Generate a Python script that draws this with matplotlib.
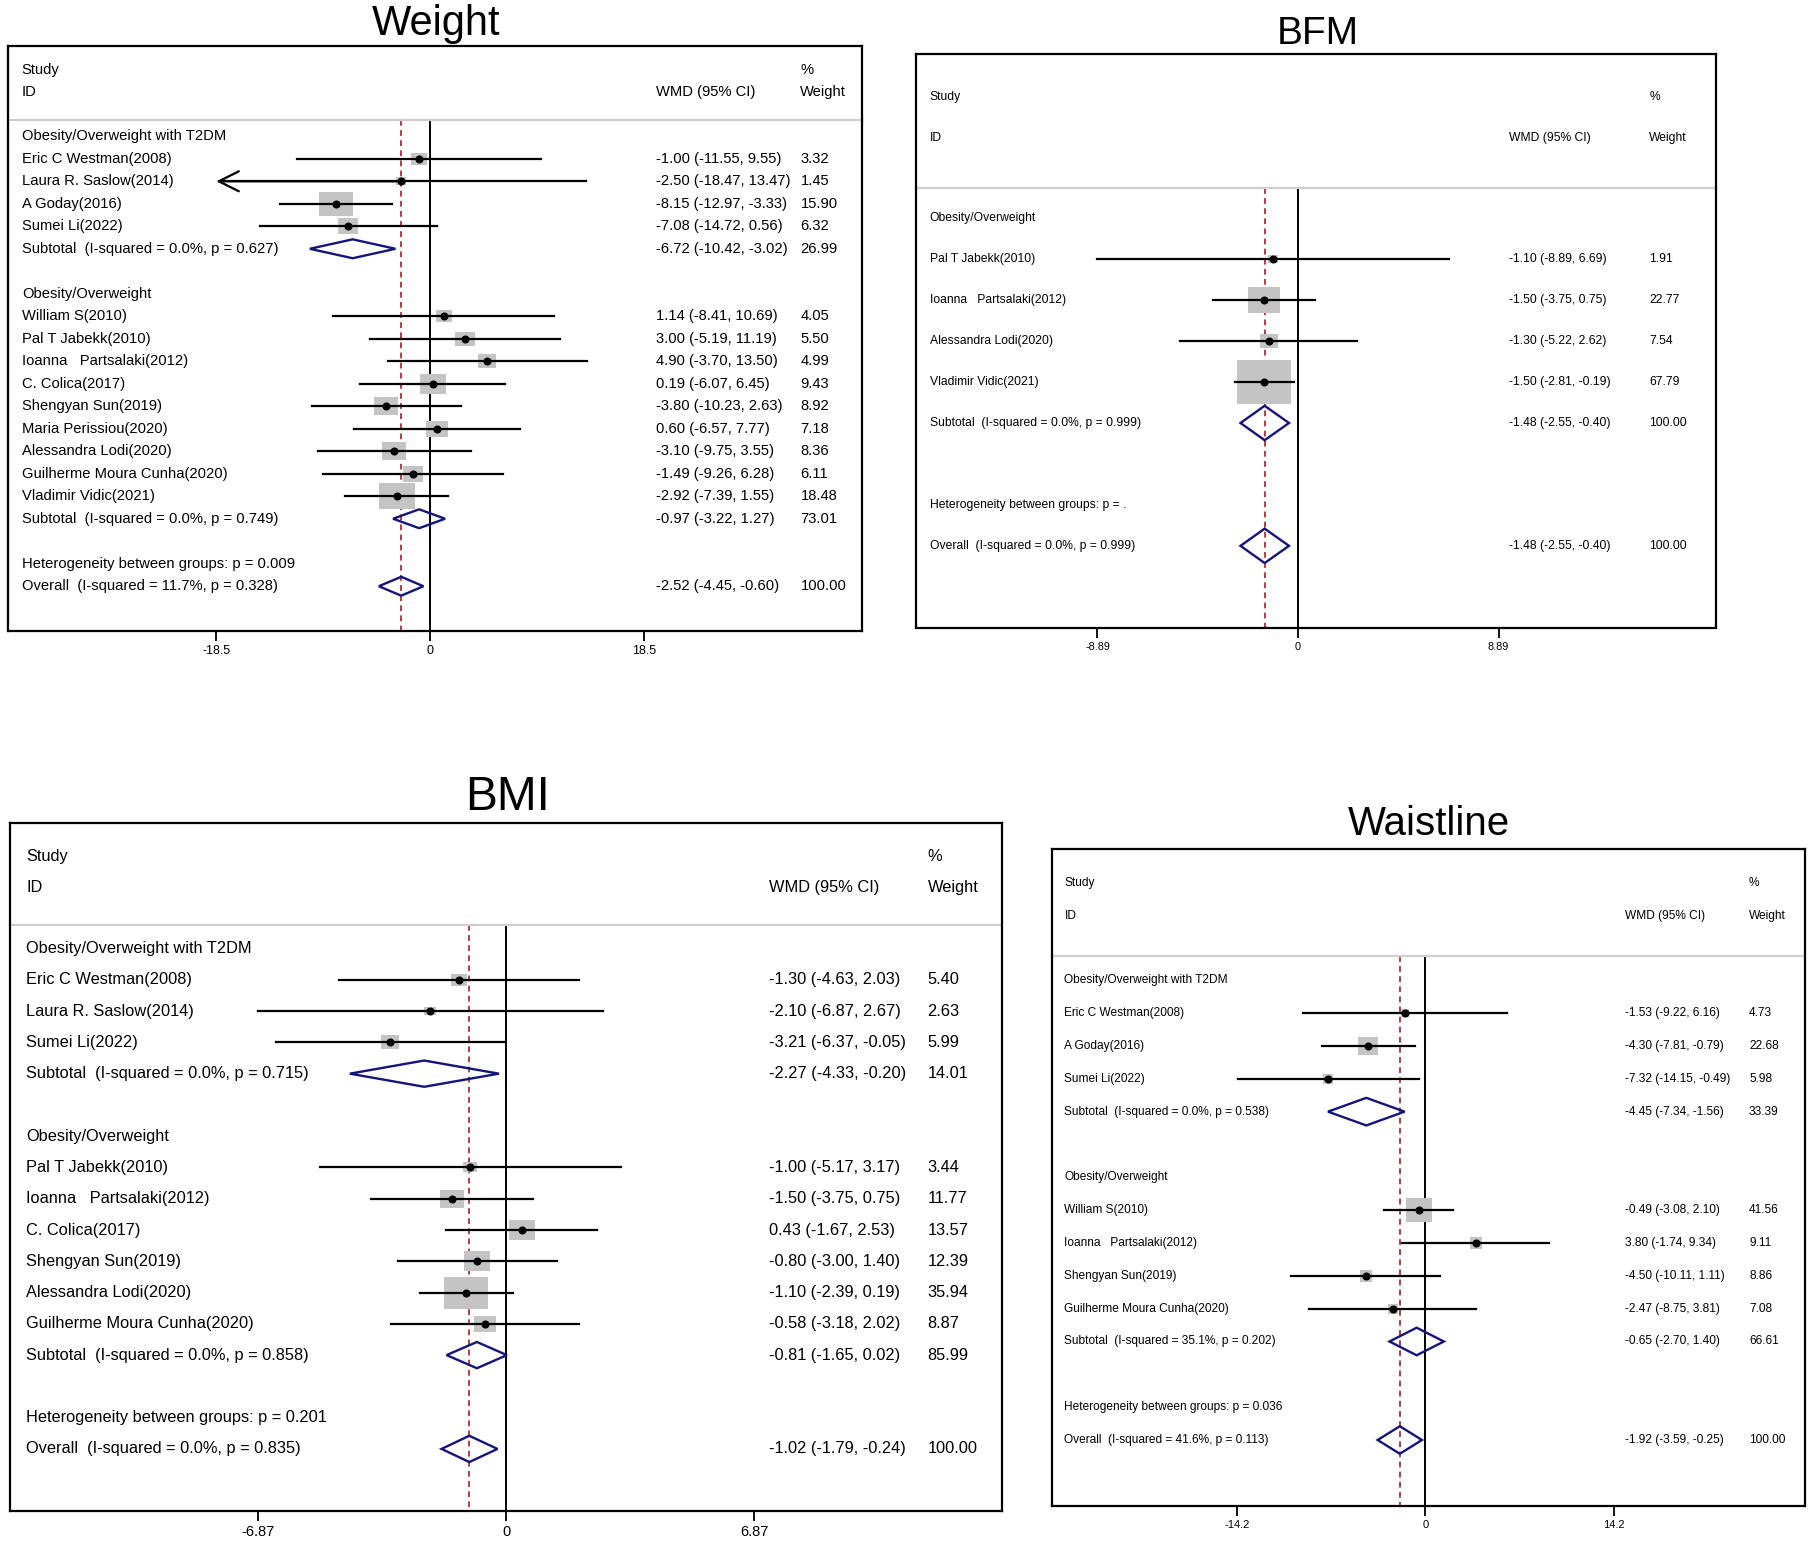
import matplotlib.pyplot as plt
import matplotlib.transforms as mtransforms
import numpy as np

plt.rcParams["font.family"] = ["Liberation Sans", "DejaVu Sans"]

# ---------------- Weight ----------------
weight_groups = ["Obesity/Overweight with T2DM", "Obesity/Overweight"]
weight_studies = [
    ["Eric C Westman(2008)", "Laura R. Saslow(2014)", "A Goday(2016)", "Sumei Li(2022)"],
    ["William S(2010)", "Pal T Jabekk(2010)", "Ioanna   Partsalaki(2012)", "C. Colica(2017)",
     "Shengyan Sun(2019)", "Maria Perissiou(2020)", "Alessandra Lodi(2020)",
     "Guilherme Moura Cunha(2020)", "Vladimir Vidic(2021)"],
]
weight_wmd = [[-1.00, -2.50, -8.15, -7.08],
              [1.14, 3.00, 4.90, 0.19, -3.80, 0.60, -3.10, -1.49, -2.92]]
weight_lo = [[-11.55, -18.47, -12.97, -14.72],
             [-8.41, -5.19, -3.70, -6.07, -10.23, -6.57, -9.75, -9.26, -7.39]]
weight_hi = [[9.55, 13.47, -3.33, 0.56],
             [10.69, 11.19, 13.50, 6.45, 2.63, 7.77, 3.55, 6.28, 1.55]]
weight_pct = [[3.32, 1.45, 15.90, 6.32],
              [4.05, 5.50, 4.99, 9.43, 8.92, 7.18, 8.36, 6.11, 18.48]]
weight_sub_i2 = ["0.0%", "0.0%"]
weight_sub_p = ["0.627", "0.749"]
weight_sub_wmd = [-6.72, -0.97]
weight_sub_lo = [-10.42, -3.22]
weight_sub_hi = [-3.02, 1.27]
weight_sub_pct = [26.99, 73.01]
weight_het_p = "0.009"
weight_overall = [-2.52, -4.45, -0.60, 100.00]
weight_overall_stats = ["11.7%", "0.328"]
weight_arrows = ["Laura R. Saslow(2014)"]

# ---------------- BFM ----------------
bfm_groups = ["Obesity/Overweight"]
bfm_studies = [["Pal T Jabekk(2010)", "Ioanna   Partsalaki(2012)", "Alessandra Lodi(2020)",
                "Vladimir Vidic(2021)"]]
bfm_wmd = [[-1.10, -1.50, -1.30, -1.50]]
bfm_lo = [[-8.89, -3.75, -5.22, -2.81]]
bfm_hi = [[6.69, 0.75, 2.62, -0.19]]
bfm_pct = [[1.91, 22.77, 7.54, 67.79]]
bfm_sub_i2 = ["0.0%"]
bfm_sub_p = ["0.999"]
bfm_sub_wmd = [-1.48]
bfm_sub_lo = [-2.55]
bfm_sub_hi = [-0.40]
bfm_sub_pct = [100.00]
bfm_het_p = "."
bfm_overall = [-1.48, -2.55, -0.40, 100.00]
bfm_overall_stats = ["0.0%", "0.999"]

# ---------------- BMI ----------------
bmi_groups = ["Obesity/Overweight with T2DM", "Obesity/Overweight"]
bmi_studies = [
    ["Eric C Westman(2008)", "Laura R. Saslow(2014)", "Sumei Li(2022)"],
    ["Pal T Jabekk(2010)", "Ioanna   Partsalaki(2012)", "C. Colica(2017)", "Shengyan Sun(2019)",
     "Alessandra Lodi(2020)", "Guilherme Moura Cunha(2020)"],
]
bmi_wmd = [[-1.30, -2.10, -3.21], [-1.00, -1.50, 0.43, -0.80, -1.10, -0.58]]
bmi_lo = [[-4.63, -6.87, -6.37], [-5.17, -3.75, -1.67, -3.00, -2.39, -3.18]]
bmi_hi = [[2.03, 2.67, -0.05], [3.17, 0.75, 2.53, 1.40, 0.19, 2.02]]
bmi_pct = [[5.40, 2.63, 5.99], [3.44, 11.77, 13.57, 12.39, 35.94, 8.87]]
bmi_sub_i2 = ["0.0%", "0.0%"]
bmi_sub_p = ["0.715", "0.858"]
bmi_sub_wmd = [-2.27, -0.81]
bmi_sub_lo = [-4.33, -1.65]
bmi_sub_hi = [-0.20, 0.02]
bmi_sub_pct = [14.01, 85.99]
bmi_het_p = "0.201"
bmi_overall = [-1.02, -1.79, -0.24, 100.00]
bmi_overall_stats = ["0.0%", "0.835"]

# ---------------- Waistline ----------------
waist_groups = ["Obesity/Overweight with T2DM", "Obesity/Overweight"]
waist_studies = [
    ["Eric C Westman(2008)", "A Goday(2016)", "Sumei Li(2022)"],
    ["William S(2010)", "Ioanna   Partsalaki(2012)", "Shengyan Sun(2019)",
     "Guilherme Moura Cunha(2020)"],
]
waist_wmd = [[-1.53, -4.30, -7.32], [-0.49, 3.80, -4.50, -2.47]]
waist_lo = [[-9.22, -7.81, -14.15], [-3.08, -1.74, -10.11, -8.75]]
waist_hi = [[6.16, -0.79, -0.49], [2.10, 9.34, 1.11, 3.81]]
waist_pct = [[4.73, 22.68, 5.98], [41.56, 9.11, 8.86, 7.08]]
waist_sub_i2 = ["0.0%", "35.1%"]
waist_sub_p = ["0.538", "0.202"]
waist_sub_wmd = [-4.45, -0.65]
waist_sub_lo = [-7.34, -2.70]
waist_sub_hi = [-1.56, 1.40]
waist_sub_pct = [33.39, 66.61]
waist_het_p = "0.036"
waist_overall = [-1.92, -3.59, -0.25, 100.00]
waist_overall_stats = ["41.6%", "0.113"]


def pack(prefix):
    g = globals()
    return {k: g[prefix + "_" + k] for k in
            ["groups", "studies", "wmd", "lo", "hi", "pct", "sub_i2", "sub_p", "sub_wmd",
             "sub_lo", "sub_hi", "sub_pct", "het_p", "overall", "overall_stats"]}


panels = [
    ("Weight", pack("weight"), weight_arrows,
     dict(box=(7, 40, 745, 545), zero=372, ppu=10.0, tick=18.5, fs=10.6, tick_fs=9.0,
          title=(377, 30, 30), k=6.0, aspect=0.75, cols=(0.016, 0.759, 0.928))),
    ("BFM", pack("bfm"), [],
     dict(box=(792, 47, 1483, 542), zero=1122, ppu=19.5, tick=8.89, fs=8.7, tick_fs=7.8,
          title=(1139, 38, 28), k=4.7, aspect=0.81, cols=(0.017, 0.742, 0.917))),
    ("BMI", pack("bmi"), [],
     dict(box=(9, 711, 866, 1305), zero=437.5, ppu=31.2, tick=6.87, fs=11.8, tick_fs=10.5,
          title=(439, 699, 34.5), k=5.2, aspect=0.76, cols=(0.016, 0.765, 0.925))),
    ("Waistline", pack("waist"), [],
     dict(box=(909, 733, 1560, 1300), zero=1232, ppu=11.46, tick=14.2, fs=8.6, tick_fs=8.0,
          title=(1235, 721, 29), k=2.9, aspect=0.95, cols=(0.017, 0.762, 0.926))),
]

REF_W, REF_H = 1568.0, 1340.0
GRAY = "#c4c4c4"
NAVY = "#14147a"
RED = "#a83236"

fig = plt.figure(figsize=(18.14, 15.52), dpi=100)


def draw_panel(title, d, arrows, lay):
    x0, y0, x1, y1 = lay["box"]
    ax = fig.add_axes([x0 / REF_W, 1 - y1 / REF_H, (x1 - x0) / REF_W, (y1 - y0) / REF_H])
    ax.set_xlim((x0 - lay["zero"]) / lay["ppu"], (x1 - lay["zero"]) / lay["ppu"])
    n_overall = sum(len(s) + 3 for s in d["studies"]) + 1
    ax.set_ylim(n_overall + 2, -4)
    trans = mtransforms.blended_transform_factory(ax.transAxes, ax.transData)
    c0, c1, c2 = lay["cols"]
    fs = lay["fs"]
    a = lay["aspect"]
    rect = [(-1, -a), (1, -a), (1, a), (-1, a)]
    h = 0.42

    def txt(x, y, s):
        ax.text(x, y, s, transform=trans, va="center", ha="left", fontsize=fs, color="black")

    txt(c0, -2.95, "Study")
    txt(c0, -1.95, "ID")
    txt(c2, -2.95, "%")
    txt(c1, -1.95, "WMD (95% CI)")
    txt(c2, -1.95, "Weight")
    sep = -0.74
    ax.plot([0, 1], [sep, sep], transform=trans, color="#cfcfcf", lw=1.6, clip_on=False)

    def diamond(y, est, lo, hi):
        ax.fill([lo, est, hi, est, lo], [y, y - h, y, y + h, y], fill=False,
                edgecolor=NAVY, lw=1.7, zorder=5)

    row = 0
    for gi, grp in enumerate(d["groups"]):
        txt(c0, row, grp)
        row += 1
        for j, name in enumerate(d["studies"][gi]):
            est, lo, hi, pct = d["wmd"][gi][j], d["lo"][gi][j], d["hi"][gi][j], d["pct"][gi][j]
            ax.scatter([est], [row], s=lay["k"] ** 2 * pct, marker=rect, color=GRAY,
                       linewidths=0, zorder=2)
            if name in arrows:
                ax.plot([-lay["tick"] + 0.6, hi], [row, row], color="black", lw=1.6, zorder=3)
                ax.annotate("", xy=(-lay["tick"], row), xytext=(est, row),
                            arrowprops=dict(arrowstyle="->,head_length=0.8,head_width=0.4",
                                            lw=1.6, color="black", shrinkA=0, shrinkB=0,
                                            mutation_scale=18), zorder=3)
            else:
                ax.plot([lo, hi], [row, row], color="black", lw=1.6, zorder=3)
            ax.plot([est], [row], "o", ms=4.8, color="black", zorder=4)
            txt(c0, row, name)
            txt(c1, row, f"{est:.2f} ({lo:.2f}, {hi:.2f})")
            txt(c2, row, f"{pct:.2f}")
            row += 1
        est, lo, hi, pct = (d["sub_wmd"][gi], d["sub_lo"][gi], d["sub_hi"][gi], d["sub_pct"][gi])
        diamond(row, est, lo, hi)
        txt(c0, row, f"Subtotal  (I-squared = {d['sub_i2'][gi]}, p = {d['sub_p'][gi]})")
        txt(c1, row, f"{est:.2f} ({lo:.2f}, {hi:.2f})")
        txt(c2, row, f"{pct:.2f}")
        row += 2
    txt(c0, row, f"Heterogeneity between groups: p = {d['het_p']}")
    row += 1
    est, lo, hi, pct = d["overall"]
    diamond(row, est, lo, hi)
    i2, p = d["overall_stats"]
    txt(c0, row, f"Overall  (I-squared = {i2}, p = {p})")
    txt(c1, row, f"{est:.2f} ({lo:.2f}, {hi:.2f})")
    txt(c2, row, f"{pct:.2f}")

    ybot = n_overall + 2
    ax.vlines(0, sep, ybot, color="black", lw=1.4, zorder=1)
    ax.vlines(est, sep, ybot, color=RED, lw=1.3, linestyles=(0, (3.2, 2.4)), zorder=1)

    L = lay["tick"]
    ax.set_xticks([-L, 0, L], [f"{-L:g}", "0", f"{L:g}"])
    ax.set_yticks([])
    ax.tick_params(axis="x", direction="out", length=7, width=1.3, pad=3,
                   labelsize=lay["tick_fs"])
    for sp in ax.spines.values():
        sp.set_linewidth(1.6)
    tx, ty, tfs = lay["title"]
    fig.text(tx / REF_W, 1 - ty / REF_H, title, ha="center", va="baseline", fontsize=tfs)


for title, d, arrows, lay in panels:
    draw_panel(title, d, arrows, lay)

fig.savefig("out.png", dpi=100, facecolor="white")
